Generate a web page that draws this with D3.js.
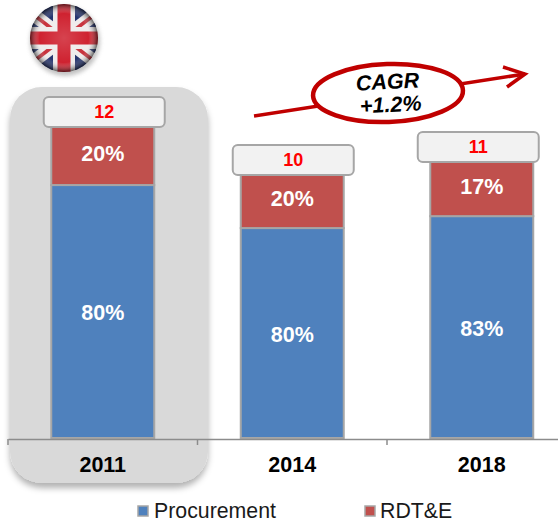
<!DOCTYPE html>
<html>
<head>
<meta charset="utf-8">
<script src="https://cdn.jsdelivr.net/npm/d3@7"></script>
<style>
  html, body { margin: 0; padding: 0; background: #fff; }
  svg { display: block; }
  text { font-family: "Liberation Sans", Arial, sans-serif; }
</style>
</head>
<body>
<svg id="chart"></svg>
<script>
var years = ["2011", "2014", "2018"];
var seriesNames = ["Procurement", "RDT&E"];
// bar sizes as drawn in the picture (they do not follow the printed labels exactly)
var procurement = [9.76, 8.10, 8.56];
var rdte = [2.24, 2.05, 2.09];
var procurementLabels = ["80%", "80%", "83%"];
var rdteLabels = ["20%", "20%", "17%"];
var totals = ["12", "10", "11"];
var seriesColors = ["#4f81bd", "#c0504d"];

var width = 558;
var height = 522;
var baseY = 438;
var grey = "#a6a6a6";

var svg = d3.select("#chart").attr("width", width).attr("height", height);
var defs = svg.append("defs");

var x = d3.scaleBand().domain(years).range([8, 576.5]);
var y = d3.scaleLinear().domain([0, 12]).range([baseY, 127]);
var barWidth = 103;

var shadow = defs.append("filter").attr("id", "shadow")
  .attr("x", "-10%").attr("y", "-10%").attr("width", "120%").attr("height", "120%");
shadow.append("feDropShadow").attr("dx", 0).attr("dy", 5).attr("stdDeviation", 3)
  .attr("flood-color", "#000").attr("flood-opacity", 0.3);

// highlight behind 2011
svg.append("rect")
  .attr("x", 10).attr("y", 87).attr("width", 198).attr("height", 396)
  .attr("rx", 32).attr("ry", 32)
  .attr("fill", "#d9d9d9")
  .attr("filter", "url(#shadow)");

// flag
var flagX = 64, flagY = 38, flagR = 34;
defs.append("clipPath").attr("id", "flagClip")
  .append("circle").attr("cx", flagX).attr("cy", flagY).attr("r", flagR);
var gloss = defs.append("radialGradient").attr("id", "gloss")
  .attr("cx", "50%").attr("cy", "50%").attr("r", "50%");
gloss.append("stop").attr("offset", "0%").attr("stop-color", "#fff").attr("stop-opacity", 0.15);
gloss.append("stop").attr("offset", "72%").attr("stop-color", "#fff").attr("stop-opacity", 0);
gloss.append("stop").attr("offset", "100%").attr("stop-color", "#000").attr("stop-opacity", 0.6);

var flag = svg.append("g");
flag.append("circle").attr("cx", flagX + 1).attr("cy", flagY + 3).attr("r", flagR + 1)
  .attr("fill", "#999").attr("opacity", 0.6).style("filter", "blur(2px)");
var inner = flag.append("g").attr("clip-path", "url(#flagClip)").style("filter", "blur(0.5px)");
inner.append("rect").attr("x", flagX - flagR).attr("y", flagY - flagR)
  .attr("width", flagR * 2).attr("height", flagR * 2).attr("fill", "#25346e");
var diag = [[-34, -26, 34, 26], [-34, 26, 34, -26]];
diag.forEach(function(d) {
  inner.append("line").attr("x1", flagX + d[0]).attr("y1", flagY + d[1])
    .attr("x2", flagX + d[2]).attr("y2", flagY + d[3])
    .attr("stroke", "#efecec").attr("stroke-width", 13);
  inner.append("line").attr("x1", flagX + d[0]).attr("y1", flagY + d[1])
    .attr("x2", flagX + d[2]).attr("y2", flagY + d[3])
    .attr("stroke", "#c8323c").attr("stroke-width", 3.5);
});
inner.append("rect").attr("x", flagX - 11).attr("y", flagY - flagR).attr("width", 22).attr("height", flagR * 2).attr("fill", "#efecec");
inner.append("rect").attr("x", flagX - flagR).attr("y", flagY - 11).attr("width", flagR * 2).attr("height", 22).attr("fill", "#efecec");
inner.append("rect").attr("x", flagX - 6.5).attr("y", flagY - flagR).attr("width", 13).attr("height", flagR * 2).attr("fill", "#cf2230");
inner.append("rect").attr("x", flagX - flagR).attr("y", flagY - 6.5).attr("width", flagR * 2).attr("height", 13).attr("fill", "#cf2230");
flag.append("circle").attr("cx", flagX).attr("cy", flagY).attr("r", flagR).attr("fill", "url(#gloss)");

// stacked bars
var rows = years.map(function(year, i) {
  return { year: year, i: i, p: procurement[i], r: rdte[i], pLabel: procurementLabels[i], rLabel: rdteLabels[i], total: totals[i] };
});

var bars = svg.selectAll(".bar").data(rows).enter().append("g").attr("class", "bar");

bars.append("rect")
  .attr("x", function(d) { return x(d.year) + x.bandwidth() / 2 - barWidth / 2; })
  .attr("y", function(d) { return y(d.p); })
  .attr("width", barWidth)
  .attr("height", function(d) { return baseY - y(d.p); })
  .attr("fill", seriesColors[0])
  .attr("stroke", grey).attr("stroke-width", 2);

bars.append("rect")
  .attr("x", function(d) { return x(d.year) + x.bandwidth() / 2 - barWidth / 2; })
  .attr("y", function(d) { return y(d.p + d.r); })
  .attr("width", barWidth)
  .attr("height", function(d) { return y(d.p) - y(d.p + d.r); })
  .attr("fill", seriesColors[1])
  .attr("stroke", grey).attr("stroke-width", 2);

bars.append("text")
  .attr("x", function(d) { return x(d.year) + x.bandwidth() / 2; })
  .attr("y", function(d) { return y(d.p / 2) + 8.5; })
  .attr("text-anchor", "middle").attr("fill", "#fff")
  .attr("font-size", 21.5).attr("font-weight", "bold")
  .text(function(d) { return d.pLabel; });

bars.append("text")
  .attr("x", function(d) { return x(d.year) + x.bandwidth() / 2; })
  .attr("y", function(d) { return y(d.p + d.r / 2) + 4.5; })
  .attr("text-anchor", "middle").attr("fill", "#fff")
  .attr("font-size", 21.5).attr("font-weight", "bold")
  .text(function(d) { return d.rLabel; });

// total boxes sit a little off centre in the original
var boxW = 121, boxH = 30;
var boxShift = [1.5, 1, -3.5];
bars.append("rect")
  .attr("x", function(d) { return x(d.year) + x.bandwidth() / 2 - boxW / 2 + boxShift[d.i]; })
  .attr("y", function(d) { return y(d.p + d.r) - boxH; })
  .attr("width", boxW).attr("height", boxH)
  .attr("rx", 5).attr("ry", 5)
  .attr("fill", "#f2f2f2")
  .attr("stroke", grey).attr("stroke-width", 2);

bars.append("text")
  .attr("x", function(d) { return x(d.year) + x.bandwidth() / 2 + boxShift[d.i]; })
  .attr("y", function(d) { return y(d.p + d.r) - boxH / 2 + 6; })
  .attr("text-anchor", "middle").attr("fill", "#ff0000")
  .attr("font-size", 18).attr("font-weight", "bold")
  .text(function(d) { return d.total; });

// axis
var axis = svg.append("g").attr("transform", "translate(0," + (baseY + 1) + ")")
  .call(d3.axisBottom(x).tickSize(0).tickPadding(18));
axis.select(".domain").attr("stroke", "#8c8c8c").attr("stroke-width", 1.5);
axis.selectAll("text")
  .attr("fill", "#000").attr("font-size", 21.5).attr("font-weight", "bold")
  .style("font-family", "'Liberation Sans', Arial, sans-serif");
axis.selectAll(".boundary").data(years).enter().append("line")
  .attr("class", "boundary")
  .attr("x1", function(d) { return x(d); }).attr("x2", function(d) { return x(d); })
  .attr("y1", 0).attr("y2", 6)
  .attr("stroke", "#8c8c8c").attr("stroke-width", 1.5);

// CAGR arrow
var cagrColor = "#c00000";
svg.append("line").attr("x1", 254).attr("y1", 116).attr("x2", 525).attr("y2", 74)
  .attr("stroke", cagrColor).attr("stroke-width", 3.5);
svg.append("polyline").attr("points", "503,67 525,74 507,87")
  .attr("fill", "none").attr("stroke", cagrColor).attr("stroke-width", 3.5);
svg.append("ellipse").attr("cx", 388).attr("cy", 93).attr("rx", 75).attr("ry", 29)
  .attr("transform", "rotate(-2 388 93)")
  .attr("fill", "#fff").attr("stroke", cagrColor).attr("stroke-width", 4.5);
var cagr = svg.append("g").attr("transform", "rotate(-3 388 93)")
  .attr("text-anchor", "middle").attr("font-size", 21.5)
  .attr("font-weight", "bold").attr("font-style", "italic").attr("fill", "#000");
cagr.append("text").attr("x", 388).attr("y", 89).text("CAGR");
cagr.append("text").attr("x", 390).attr("y", 112).text("+1.2%");

// legend
var legendSquareX = [138, 365];
var legendTextX = [154, 380];
var legend = svg.selectAll(".legend").data(seriesNames).enter().append("g").attr("class", "legend");
legend.append("rect")
  .attr("x", function(d, i) { return legendSquareX[i]; }).attr("y", 506)
  .attr("width", 10).attr("height", 10)
  .attr("fill", function(d, i) { return seriesColors[i]; })
  .attr("stroke", grey).attr("stroke-width", 1.5);
legend.append("text")
  .attr("x", function(d, i) { return legendTextX[i]; }).attr("y", 518)
  .attr("font-size", 21.3).attr("fill", "#1a1a1a")
  .text(function(d) { return d; });
</script>
</body>
</html>
